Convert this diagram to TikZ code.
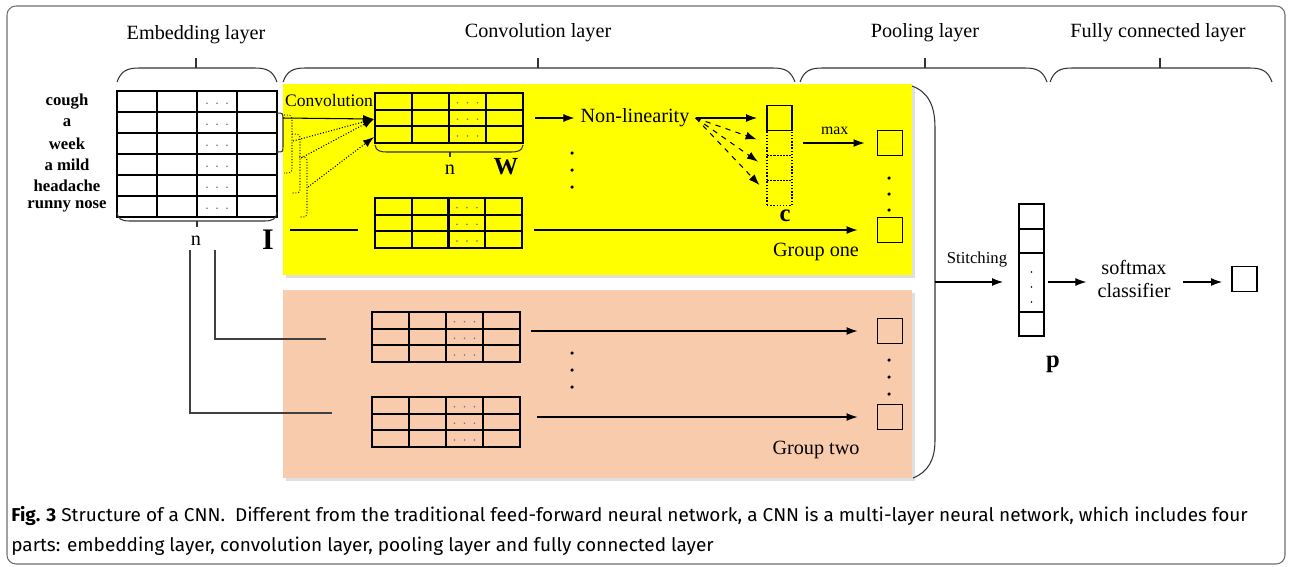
\documentclass[tikz,border=0pt]{standalone}
\usepackage{fontspec}
\setmainfont{Liberation Serif}
\newfontfamily\capfont[FakeStretch=1.02]{Fira Sans}
\usepackage{tikz}
\usetikzlibrary{arrows.meta,positioning,calc}
\usepackage{xcolor}
\definecolor{convyellow}{RGB}{255,255,0}
\definecolor{salmon}{RGB}{248,203,173}
\definecolor{dotblue}{RGB}{120,110,170}
\definecolor{framegray}{RGB}{110,110,110}
\tikzset{
    layerlabel/.style={
        font=\fontsize{11.5}{13.5}\selectfont
    },
    wordlabel/.style={
        font=\fontsize{9.5}{11}\selectfont\bfseries
    },
    gridbox/.style={
        draw,
        line width=1.2pt,
        inner sep=0pt,
        outer sep=0pt
    },
    gridline/.style={
        line width=1.2pt
    },
    cell/.style={
        draw,
        line width=0.8pt,
        minimum width=0.5cm,
        minimum height=0.5cm,
        inner sep=0pt,
        outer sep=0pt
    },
    dotcell/.style={
        cell,
        densely dotted
    },
    brace/.style={
        line width=0.6pt,
        draw=black!80
    },
    flow/.style={
        -{Latex[length=2.2mm,width=1.6mm]},
        line width=0.6pt
    }
}

\begin{document}
\begin{tikzpicture}[x=0.02cm,y=-0.02cm]
    \useasboundingbox (0,0) rectangle (1290,566);
    \draw[framegray, rounded corners=0.18cm, line width=0.6pt] (7,6) rectangle (1285,564);

    % Group boxes
    \fill[black!12] (286,87) rectangle (915,278);
    \fill[convyellow] (283,84) rectangle (912,275);
    \fill[black!12] (286,293) rectangle (915,481);
    \fill[salmon] (283,290) rectangle (912,478);

    % Layer labels and braces
    \node[layerlabel] (emblabel) at (196,35) {Embedding layer};
    \node[layerlabel] (convlabel) at (538,33) {Convolution layer};
    \node[layerlabel] (poollabel) at (925,33) {Pooling layer};
    \node[layerlabel] (fclabel) at (1158,33) {Fully connected layer};
    \foreach \a/\b/\t in {117/277/196, 283/795/538, 800/1047/925, 1050/1272/1160}{
        \draw[brace] (\a,82) .. controls (\a+4,71) and (\a+10,68) .. (\a+22,68)
            -- (\b-22,68) .. controls (\b-10,68) and (\b-4,71) .. (\b,82);
        \draw[brace] (\t,68) -- (\t,58);
    }

    % Matrices
    \foreach \m/\mx/\my/\mw/\mh/\mr in {emb/117/91/160/126/6, w/375/93/148/50/3,
        gone/375/198/147/50/3, gtwoa/372/312/148/50/3, gtwob/372/397/148/50/3}{
        \node[gridbox, anchor=north west, minimum width=\mw*0.02cm,
            minimum height=\mh*0.02cm] (\m) at (\mx,\my) {};
        \foreach \i in {1,2,3}
            \draw[gridline] (\mx+\i*\mw/4,\my) -- ++(0,\mh);
        \pgfmathtruncatemacro\mrr{\mr-1}
        \foreach \j in {1,...,\mrr}
            \draw[gridline] (\mx,\my+\j*\mh/\mr) -- ++(\mw,0);
        \foreach \j in {1,...,\mr}
            \foreach \k in {-1,0,1}
                \fill[dotblue] (\mx+2.5*\mw/4+\k*10,\my+\j*\mh/\mr-0.42*\mh/\mr) circle (0.5pt);
    }

    % Embedding layer
    \foreach \word [count=\i] in {cough,a,week,a mild,headache,runny nose}
        \node[wordlabel] (word\i) at (67,91+21*\i-10.5) {\word};
    \draw[brace] (117,212) .. controls (118,219) and (121,221) .. (130,221)
        -- (264,221) .. controls (273,221) and (276,219) .. (277,212);
    \draw[brace] (197,221) -- (197,227);
    \node[layerlabel] (embn) at (196,241) {n};
    \node[font=\fontsize{17}{19}\selectfont\bfseries] (embI) at (268,240) {I};

    % Convolution windows
    \node[anchor=west, inner sep=1pt, font=\fontsize{10}{12}\selectfont] (convtext) at (283,100) {Convolution};
    \draw[brace] (277,113) .. controls (283,113) .. (283,120) -- (283,146) .. controls (283,152) .. (277,152);
    \draw[brace, densely dotted] (284,115) .. controls (292,115) .. (292,122) -- (292,166) .. controls (292,173) .. (284,173);
    \draw[brace, densely dotted] (292,134) .. controls (300,134) .. (300,141) -- (300,186) .. controls (300,193) .. (292,193);
    \draw[brace, densely dotted] (299,157) .. controls (307,157) .. (307,164) -- (307,210) .. controls (307,217) .. (299,217);
    \coordinate (winsolid) at (283,118);
    \coordinate (winone) at (293,141);
    \coordinate (wintwo) at (301,158);
    \coordinate (winthree) at (308,187);
    \coordinate (wrowtwo) at (374,119);
    \coordinate (wrowthree) at (374,137);
    \draw[flow] (winsolid) -- (wrowtwo);
    \draw[flow, densely dotted] (winone) -- (wrowtwo);
    \draw[flow, densely dotted] (wintwo) -- (wrowtwo);
    \draw[flow, densely dotted] (winthree) -- (wrowthree);

    \draw[brace] (375,145) .. controls (376,151) and (380,152) .. (388,152)
        -- (510,152) .. controls (518,152) and (522,151) .. (523,145);
    \draw[brace] (450,152) -- (450,157);
    \node[layerlabel] (wn) at (450,170) {n};
    \node[font=\fontsize{14}{16}\selectfont\bfseries] (wlabel) at (506,167) {W};

    % Non-linearity and feature map
    \node[layerlabel] (nonlin) at (635,118) {Non-linearity};
    \draw[flow, shorten <=0.24cm] (w.east |- nonlin) -- (nonlin.west);
    \foreach \yy in {153,170,187}
        \fill (572,\yy) circle (1pt);
    \node[cell] (cone) at (779.5,118) {};
    \node[dotcell] (ctwo) at (779.5,143) {};
    \node[dotcell] (cthree) at (779.5,168) {};
    \node[dotcell] (cfour) at (779.5,193) {};
    \draw[flow, shorten >=0.2cm] (nonlin.east) -- (cone.west);
    \draw[flow, dashed, shorten >=0.22cm] (nonlin.east) -- (ctwo.west);
    \draw[flow, dashed, shorten >=0.22cm] (nonlin.east) -- (cthree.west);
    \draw[flow, dashed, shorten >=0.22cm] (nonlin.east) -- (cfour.west);
    \node[font=\fontsize{14}{16}\selectfont\bfseries] (clabel) at (785,216) {c};

    % Pooling
    \node[cell] (pone) at (890,143) {};
    \node[cell] (ptwo) at (890,230) {};
    \node[cell] (pthree) at (890,331) {};
    \node[cell] (pfour) at (890,417) {};
    \draw[flow, shorten <=0.22cm, shorten >=0.26cm] (ctwo.east) -- (pone.west)
        node[midway, above=1pt, font=\fontsize{9}{11}\selectfont] {max};
    \foreach \yy in {178,194,210,360,377,394}
        \fill (889,\yy) circle (1pt);

    % Group one
    \coordinate (gonein) at (290,230);
    \draw[line width=0.6pt, shorten >=0.34cm] (gonein) -- (gonein -| gone.west);
    \draw[flow, shorten <=0.24cm, shorten >=0.4cm] (gone.east |- ptwo) -- (ptwo.west);
    \node[layerlabel] (gonelabel) at (816,252) {Group one};

    % Group two
    \coordinate (embtapa) at (215,250);
    \coordinate (embtapb) at (190,250);
    \coordinate (gtwoain) at (326,339);
    \coordinate (gtwobin) at (332,413);
    \draw[line width=0.6pt, draw=black!75] (embtapa) |- (gtwoain);
    \draw[line width=0.6pt, draw=black!75] (embtapb) |- (gtwobin);
    \draw[flow, shorten <=0.22cm, shorten >=0.4cm] (gtwoa.east |- pthree) -- (pthree.west);
    \draw[flow, shorten <=0.34cm, shorten >=0.4cm] (gtwob.east |- pfour) -- (pfour.west);
    \foreach \yy in {353,370,387}
        \fill (572,\yy) circle (1pt);
    \node[layerlabel] (gtwolabel) at (816,450) {Group two};

    % Pooling bracket and stitching
    \draw[brace] (912,86) .. controls (928,92) and (935,105) .. (935,128)
        -- (935,440) .. controls (935,460) and (928,472) .. (913,478);
    \coordinate (stitch) at (935,282);
    \node[draw, line width=0.8pt, minimum width=0.5cm, minimum height=132*0.02cm,
        inner sep=0pt, outer sep=0pt] (pvec) at (1031.5,270) {};
    \foreach \yy in {229,253,312}
        \draw[line width=0.8pt] (1019,\yy) -- (1044,\yy);
    \foreach \yy in {272,287,302}
        \fill (1031.5,\yy) circle (0.5pt);
    \node[font=\fontsize{14}{16}\selectfont\bfseries] (plabel) at (1053,364) {p};
    \draw[flow, shorten >=0.32cm] (stitch) -- (stitch -| pvec.west)
        node[midway, above=5pt, font=\fontsize{9.5}{11}\selectfont] {Stitching};

    % Fully connected
    \node[layerlabel, align=center] (softmax) at (1134,279) {softmax\\classifier};
    \node[cell] (out) at (1244.5,279) {};
    \draw[flow, shorten <=0.08cm, shorten >=0.1cm] (pvec.east |- stitch) -- (softmax.west |- stitch);
    \draw[flow, shorten <=0.12cm, shorten >=0.2cm] (softmax.east |- stitch) -- (out.west |- stitch);

    % Caption
    \node[anchor=north west, align=left, inner sep=0pt,
        font=\capfont\fontsize{10.6}{17}\selectfont] (caption) at (11,506)
        {\textbf{Fig. 3} Structure of a CNN.\ \ Different from the traditional feed-forward neural network, a CNN is a multi-layer neural network, which includes four\\
         parts: embedding layer, convolution layer, pooling layer and fully connected layer};
\end{tikzpicture}
\end{document}
